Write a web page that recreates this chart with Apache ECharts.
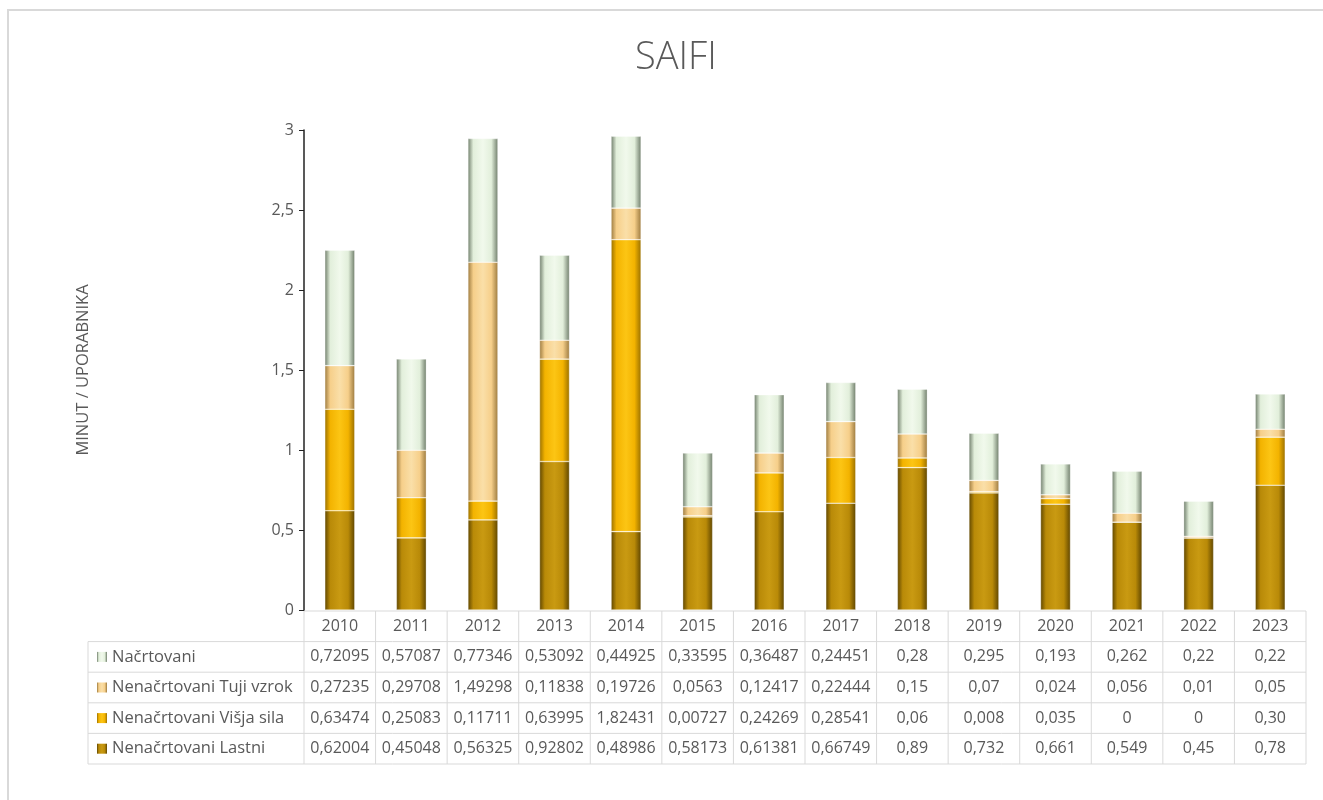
<!DOCTYPE html>
<html>
<head>
<meta charset="utf-8">
<title>SAIFI</title>
<script src="https://cdn.jsdelivr.net/npm/echarts@6/dist/echarts.min.js"></script>
<style>
  html, body { margin: 0; padding: 0; background: #fff; }
  #main { width: 1323px; height: 800px; }
</style>
</head>
<body>
<div id="main"></div>
<script>
// podatki, kot so v tabeli pod grafom
const years = ['2010', '2011', '2012', '2013', '2014', '2015', '2016', '2017', '2018', '2019', '2020', '2021', '2022', '2023'];
const nacrtovani = ['0,72095', '0,57087', '0,77346', '0,53092', '0,44925', '0,33595', '0,36487', '0,24451', '0,28', '0,295', '0,193', '0,262', '0,22', '0,22'];
const tujiVzrok = ['0,27235', '0,29708', '1,49298', '0,11838', '0,19726', '0,0563', '0,12417', '0,22444', '0,15', '0,07', '0,024', '0,056', '0,01', '0,05'];
const visjaSila = ['0,63474', '0,25083', '0,11711', '0,63995', '1,82431', '0,00727', '0,24269', '0,28541', '0,06', '0,008', '0,035', '0', '0', '0,30'];
const lastni = ['0,62004', '0,45048', '0,56325', '0,92802', '0,48986', '0,58173', '0,61381', '0,66749', '0,89', '0,732', '0,661', '0,549', '0,45', '0,78'];
const yTicks = [0, 0.5, 1, 1.5, 2, 2.5, 3];

const num = s => parseFloat(s.replace(',', '.'));

// postavitev
const gLeft = 304, gRight = 1306, gTop = 130, gBottom = 610;
const colW = (gRight - gLeft) / years.length;
const tabLeft = 88, rowH = 30.6, tabTop = 611;
const textColor = '#595959';
const font = '"Open Sans", "DejaVu Sans", sans-serif';

// vrstice tabele (od zgoraj navzdol)
const rows = [
  { name: 'Načrtovani', vals: nacrtovani, edge: '#6f7d6a', main: '#e2efdb', light: '#f1f9ec' },
  { name: 'Nenačrtovani Tuji vzrok', vals: tujiVzrok, edge: '#9c7a3e', main: '#f6cf8a', light: '#fadfa8' },
  { name: 'Nenačrtovani Višja sila', vals: visjaSila, edge: '#9a7000', main: '#f3b300', light: '#fcc514' },
  { name: 'Nenačrtovani Lastni', vals: lastni, edge: '#5e4500', main: '#b98a08', light: '#c99a12' }
];

function barColor(r) {
  return new echarts.graphic.LinearGradient(0, 0, 1, 0, [
    { offset: 0, color: r.edge },
    { offset: 0.18, color: r.main },
    { offset: 0.5, color: r.light },
    { offset: 0.78, color: r.main },
    { offset: 1, color: r.edge }
  ]);
}

// serije - zlozene od spodaj navzgor
const series = rows.slice().reverse().map(r => ({
  name: r.name,
  type: 'bar',
  stack: 'saifi',
  barWidth: 30,
  data: r.vals.map(num),
  itemStyle: { color: barColor(r), borderColor: 'rgba(255,255,255,0.55)', borderWidth: 0.6 }
}));

// tabela kot graphic
const graphics = [];
graphics.push({
  type: 'rect', shape: { x: 8, y: 10, width: 1400, height: 900 },
  style: { fill: 'none', stroke: '#d9d9d9', lineWidth: 2 }, silent: true
});
const lineStyle = { stroke: '#d9d9d9', lineWidth: 1 };
const tabBottom = tabTop + rowH * 5;
// vodoravne crte
graphics.push({ type: 'line', shape: { x1: gLeft, y1: tabTop, x2: gRight, y2: tabTop }, style: lineStyle });
for (let i = 1; i <= 5; i++) {
  const y = tabTop + rowH * i;
  graphics.push({ type: 'line', shape: { x1: tabLeft, y1: y, x2: gRight, y2: y }, style: lineStyle });
}
// navpicne crte
graphics.push({ type: 'line', shape: { x1: tabLeft, y1: tabTop + rowH, x2: tabLeft, y2: tabBottom }, style: lineStyle });
for (let j = 0; j <= years.length; j++) {
  const x = gLeft + colW * j;
  graphics.push({ type: 'line', shape: { x1: x, y1: tabTop, x2: x, y2: tabBottom }, style: lineStyle });
}
// leta
years.forEach((y, j) => {
  graphics.push({
    type: 'text', x: gLeft + colW * (j + 0.5), y: tabTop + rowH / 2,
    style: { text: y, fill: textColor, font: '16px ' + font, align: 'center', verticalAlign: 'middle' }
  });
});
// vrstice
rows.forEach((r, i) => {
  const cy = tabTop + rowH * (i + 1.5);
  graphics.push({
    type: 'rect', shape: { x: 97, y: cy - 5, width: 10, height: 10 },
    style: { fill: barColor(r) }
  });
  graphics.push({
    type: 'text', x: 112, y: cy,
    style: { text: r.name, fill: textColor, font: '16.5px ' + font, align: 'left', verticalAlign: 'middle' }
  });
  r.vals.forEach((v, j) => {
    graphics.push({
      type: 'text', x: gLeft + colW * (j + 0.5), y: cy,
      style: { text: v, fill: textColor, font: '16px ' + font, align: 'center', verticalAlign: 'middle' }
    });
  });
});

const chart = echarts.init(document.getElementById('main'));
chart.setOption({
  backgroundColor: '#fff',
  animation: false,
  textStyle: { fontFamily: font },
  title: {
    text: 'SAIFI', left: 630, top: 34,
    textStyle: { fontSize: 38, fontWeight: 300, color: textColor, fontFamily: font }
  },
  grid: { left: gLeft, right: 1323 - gRight, top: gTop, bottom: 800 - gBottom },
  xAxis: {
    type: 'category',
    data: years,
    axisLine: { show: false },
    axisTick: { show: false },
    axisLabel: { show: false }
  },
  yAxis: {
    type: 'value',
    min: yTicks[0], max: yTicks[yTicks.length - 1], interval: 0.5,
    name: 'MINUT / UPORABNIKA',
    nameLocation: 'middle', nameRotate: 90, nameGap: 212,
    nameTextStyle: { fontSize: 16.5, color: textColor },
    axisLine: { show: true, lineStyle: { color: '#222', width: 1.5 } },
    axisTick: { show: true, length: 5, lineStyle: { color: '#222' } },
    axisLabel: {
      fontSize: 16, color: textColor, margin: 10,
      formatter: v => String(v).replace('.', ',')
    },
    splitLine: { show: false }
  },
  series: series,
  graphic: graphics
});
</script>
</body>
</html>
